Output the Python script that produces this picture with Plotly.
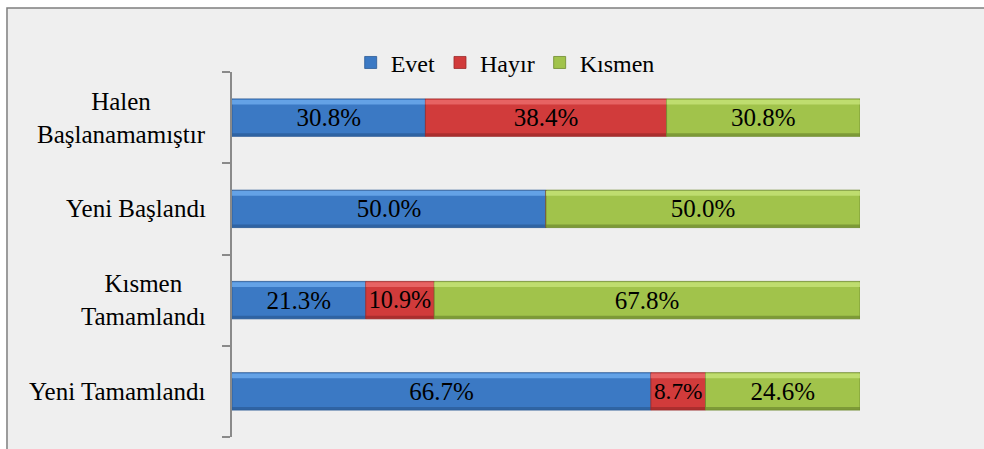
import plotly.graph_objects as go

# Categories listed bottom-to-top
categories = ["Yeni Tamamlandı", "Kısmen Tamamlandı", "Yeni Başlandı", "Halen Başlanamamıştır"]
category_labels = ["Yeni Tamamlandı", "Kısmen<br>Tamamlandı", "Yeni Başlandı", "Halen<br>Başlanamamıştır"]
series_names = ["Evet", "Hayır", "Kısmen"]
evet = [66.7, 21.3, 50.0, 30.8]
hayir = [8.7, 10.9, 0.0, 38.4]
kismen = [24.6, 67.8, 50.0, 30.8]

series_values = [evet, hayir, kismen]
main_colors = ["#3b79c4", "#d13b3b", "#a1c34b"]
light_colors = ["#72b0f2", "#ee7272", "#c9e67c"]
dark_colors = ["#2b5b96", "#9b2929", "#6e8a2f"]

FONT = "Liberation Serif"
BAR_W = 0.41

fig = go.Figure()
bases = [0.0] * len(categories)
for name, vals, mc, lc, dc in zip(series_names, series_values, main_colors, light_colors, dark_colors):
    labels = [f"{v:.1f}%" if v > 0 else "" for v in vals]
    fig.add_trace(go.Bar(
        name=name, y=categories, x=vals, base=list(bases), orientation="h",
        width=BAR_W, offset=-BAR_W / 2,
        marker=dict(color=mc, line=dict(color=dc, width=0.8)),
        text=labels, textposition="inside", insidetextanchor="middle",
        textfont=dict(family=FONT, size=25, color="black"),
        hoverinfo="skip",
    ))
    # top highlight strip
    fig.add_trace(go.Bar(
        y=categories, x=vals, base=list(bases), orientation="h",
        width=0.05, offset=BAR_W / 2 - 0.06,
        marker=dict(color=lc, line=dict(width=0)), opacity=0.75,
        showlegend=False, hoverinfo="skip",
    ))
    # bottom shadow strip
    fig.add_trace(go.Bar(
        y=categories, x=vals, base=list(bases), orientation="h",
        width=0.035, offset=-BAR_W / 2,
        marker=dict(color=dc, line=dict(width=0)), opacity=0.7,
        showlegend=False, hoverinfo="skip",
    ))
    bases = [b + v for b, v in zip(bases, vals)]

annotations = []
for cat, lab in zip(categories, category_labels):
    annotations.append(dict(
        x=0, y=cat, xref="x", yref="y", xanchor="right", yanchor="middle",
        xshift=-24, text=lab, showarrow=False, align="center",
        font=dict(family=FONT, size=25, color="black"),
    ))

fig.update_layout(
    width=984, height=449,
    margin=dict(l=232, r=124, t=72, b=12),
    barmode="overlay",
    paper_bgcolor="white",
    plot_bgcolor="rgba(0,0,0,0)",
    font=dict(family=FONT, size=24, color="black"),
    showlegend=True,
    legend=dict(orientation="h", x=0.435, xanchor="center", y=1.025, yanchor="middle",
                font=dict(family=FONT, size=24), bgcolor="rgba(0,0,0,0)",
                itemwidth=30, traceorder="normal"),
    xaxis=dict(range=[0, 100], visible=False, fixedrange=True),
    yaxis=dict(type="category", categoryorder="array", categoryarray=categories,
               range=[-0.5, 3.5], showticklabels=False, showline=True,
               linecolor="#8a8a8a", linewidth=1.5, ticks="outside", ticklen=8,
               tickcolor="#8a8a8a", tickwidth=1.5, tickson="boundaries",
               showgrid=False, zeroline=False, fixedrange=True),
    annotations=annotations,
    shapes=[dict(type="rect", xref="paper", yref="paper",
                 x0=-0.3583, x1=1.21, y0=-0.06, y1=1.1753,
                 line=dict(color="#7f7f7f", width=1.5), fillcolor="#efefef", layer="below")],
)

fig.write_html("out.html", config={"displayModeBar": False},
               post_script="document.body.style.margin='0';document.body.style.overflow='hidden';")
